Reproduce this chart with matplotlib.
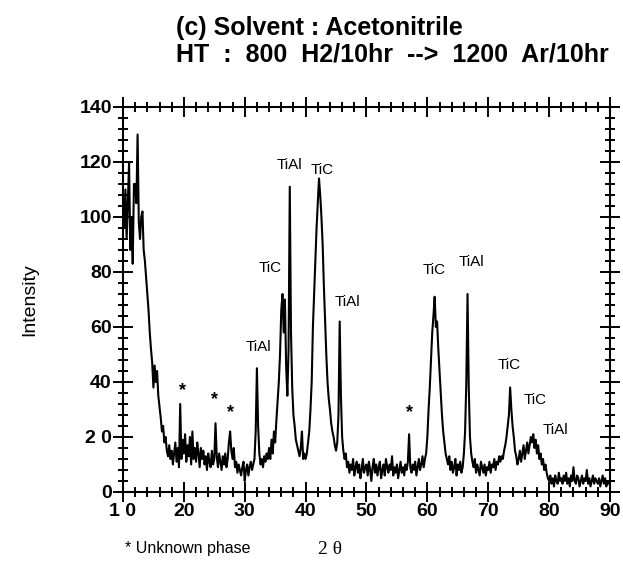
import matplotlib
matplotlib.use("Agg")
import matplotlib.pyplot as plt
import numpy as np
from matplotlib.ticker import FixedLocator, FixedFormatter, MultipleLocator

plt.rcParams['font.family'] = ['Liberation Sans', 'DejaVu Sans']

# XRD scan, 2-theta from 10 to 90 in 0.2 degree steps
two_theta_start = 10.0
two_theta_step = 0.2
intensity = [
    103, 96, 110, 92, 105, 120, 88, 100, 83, 112,   # 10
    112, 105, 130, 98, 92, 100, 102, 88, 84, 78,    # 12
    72, 66, 58, 52, 47, 38, 46, 40, 44, 35,         # 14
    31, 27, 22, 24, 18, 20, 15, 13, 17, 12,         # 16
    15, 10, 14, 18, 11, 16, 9, 32, 12, 19,          # 18
    14, 21, 11, 17, 13, 20, 10, 22, 12, 16,         # 20
    11, 18, 14, 9, 16, 12, 15, 10, 13, 8,           # 22
    14, 11, 9, 15, 10, 12, 25, 13, 9, 14,           # 24
    11, 8, 13, 10, 14, 9, 12, 18, 22, 15,           # 26
    12, 16, 9, 11, 7, 10, 8, 6, 9, 11,              # 28
    4, 8, 10, 6, 9, 11, 8, 10, 12, 22,              # 30
    45, 24, 14, 10, 12, 9, 13, 11, 14, 12,          # 32
    16, 12, 19, 14, 22, 18, 26, 33, 40, 50,         # 34
    66, 72, 58, 70, 46, 35, 52, 111, 58, 38,        # 36
    28, 24, 19, 17, 15, 13, 16, 22, 12, 14,         # 38
    12, 14, 18, 22, 30, 40, 60, 72, 85, 96,         # 40
    105, 114, 108, 100, 90, 75, 62, 50, 40, 34,     # 42
    30, 25, 22, 20, 17, 15, 18, 28, 62, 35,         # 44
    20, 15, 12, 14, 9, 11, 7, 10, 8, 12,            # 46
    6, 9, 11, 7, 10, 5, 8, 12, 7, 9,                # 48
    10, 6, 11, 8, 4, 9, 12, 7, 10, 6,               # 50
    9, 11, 5, 8, 10, 6, 12, 9, 7, 10,               # 52
    8, 13, 6, 9, 7, 10, 5, 8, 11, 7,                # 54
    9, 6, 10, 8, 11, 21, 9, 7, 10, 8,               # 56
    11, 6, 9, 12, 8, 10, 13, 9, 12, 14,             # 58
    20, 30, 38, 48, 58, 64, 71, 60, 62, 52,         # 60
    44, 36, 28, 22, 18, 14, 12, 10, 13, 8,          # 62
    11, 7, 9, 12, 6, 10, 8, 11, 7, 9,               # 64
    14, 22, 40, 72, 38, 20, 14, 11, 9, 12,          # 66
    7, 10, 8, 6, 11, 9, 7, 10, 6, 9,                # 68
    8, 11, 7, 10, 9, 12, 8, 11, 10, 13,             # 70
    11, 13, 12, 15, 17, 20, 24, 28, 38, 30,         # 72
    24, 20, 15, 13, 10, 12, 15, 11, 14, 17,         # 74
    12, 15, 18, 14, 17, 20, 18, 21, 16, 19,         # 76
    14, 17, 12, 14, 10, 12, 8, 10, 7, 5,            # 78
    4, 6, 3, 5, 2, 6, 4, 3, 7, 4,                   # 80
    5, 3, 6, 4, 7, 3, 5, 2, 6, 4,                   # 82
    9, 4, 3, 6, 5, 2, 4, 6, 3, 5,                   # 84
    4, 8, 3, 5, 2, 4, 6, 3, 5, 4,                   # 86
    3, 5, 2, 4, 6, 3, 5, 2, 4, 3,                   # 88
    4,                                              # 90
]

# peak labels
peak_names = ["TiAl", "TiC", "TiAl", "TiC", "TiAl", "TiC", "TiAl", "TiC", "TiC", "TiAl"]
peak_x = [32.2, 34.1, 37.4, 42.7, 46.8, 61.2, 67.3, 73.5, 77.7, 81.1]
peak_y = [52.7, 81.5, 119.0, 117.0, 69.0, 80.7, 83.6, 46.0, 33.5, 22.5]

# unknown phase markers
star_x = [19.8, 25.1, 27.7, 57.1]
star_y = [37.0, 33.5, 29.0, 28.7]

x_ticks = [10, 20, 30, 40, 50, 60, 70, 80, 90]
x_tick_labels = ["1 0", "20", "30", "40", "50", "60", "70", "80", "90"]
y_ticks = [0, 20, 40, 60, 80, 100, 120, 140]
y_tick_labels = ["0", "2 0", "40", "60", "80", "100", "120", "140"]

title_lines = ["(c) Solvent : Acetonitrile", "HT  :  800  H2/10hr  -->  1200  Ar/10hr"]


def main():
    y = np.asarray(intensity, dtype=float)
    x = two_theta_start + two_theta_step * np.arange(len(y))

    fig = plt.figure(figsize=(6.23, 5.64), dpi=100)
    ax = fig.add_axes([0.1974, 0.1277, 0.7817, 0.6826])

    ax.plot(x, y, color="black", lw=1.5)

    for name, px, py in zip(peak_names, peak_x, peak_y):
        ax.text(px, py, name, ha="center", va="center", fontsize=11)
    for sx, sy in zip(star_x, star_y):
        ax.text(sx, sy, "*", ha="center", va="center", fontsize=13, fontweight="bold")

    ax.set_xlim(10, 90)
    ax.set_ylim(0, 140)
    ax.xaxis.set_major_locator(FixedLocator(x_ticks))
    ax.xaxis.set_major_formatter(FixedFormatter(x_tick_labels))
    ax.xaxis.set_minor_locator(MultipleLocator(2))
    ax.yaxis.set_major_locator(FixedLocator(y_ticks))
    ax.yaxis.set_major_formatter(FixedFormatter(y_tick_labels))
    ax.yaxis.set_minor_locator(MultipleLocator(4))

    ax.tick_params(which="both", direction="inout", top=True, right=True,
                   width=1.4, labelsize=14, pad=1)
    ax.tick_params(which="major", length=14)
    ax.tick_params(which="minor", length=6.5)
    for lab in ax.get_xticklabels() + ax.get_yticklabels():
        lab.set_fontweight("bold")
    for sp in ax.spines.values():
        sp.set_linewidth(1.5)

    fig.text(30 / 623, 1 - 300 / 564, "Intensity", rotation=90,
             ha="center", va="center", fontsize=14)
    fig.text(125 / 623, 1 - 548 / 564, "* Unknown phase", ha="left",
             va="center", fontsize=11.5)
    fig.text(330 / 623, 1 - 549 / 564, "2 \u03b8", ha="center", va="center",
             fontsize=14, family=["Liberation Serif", "DejaVu Serif"])

    fig.text(176 / 623, 1 - 28 / 564, title_lines[0], ha="left", va="center",
             fontsize=18, fontweight="bold")
    fig.text(176 / 623, 1 - 54 / 564, title_lines[1], ha="left", va="center",
             fontsize=18, fontweight="bold")

    fig.savefig("out.png", dpi=100)


if __name__ == "__main__":
    main()
